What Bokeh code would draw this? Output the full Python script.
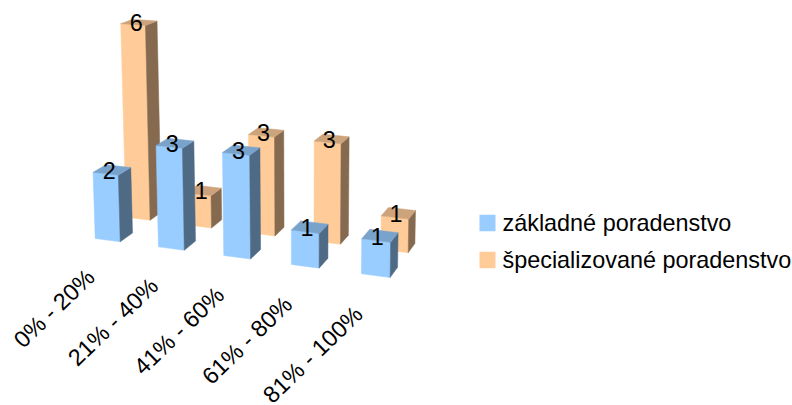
from bokeh.plotting import figure
from bokeh.models import Range1d
from bokeh.core.properties import value
from bokeh.embed import file_html
from bokeh.resources import INLINE

categories = ["0% - 20%", "21% - 40%", "41% - 60%", "61% - 80%", "81% - 100%"]
series_names = ["základné poradenstvo", "špecializované poradenstvo"]
zakladne = [2, 3, 3, 1, 1]
specializovane = [6, 1, 3, 3, 1]

FACE = ["#99CCFF", "#FFCC99"]
TOP = ["#7AA3CC", "#CCA37A"]
SIDE = ["#4F6A85", "#856A4F"]
FONT = "Liberation Sans"
FS = "23.4px"
BAR = 0.40


def project(x, y, z):
    """Perspective camera of the 3D chart: category x, value y, series depth z."""
    d = 1 - 0.0165 * x - 0.00515 * y + 0.05 * z
    u = (94.7 + 60.6 * x - 1.55 * y + 37.13 * z) / d
    v = (238 + 4.3 * x - 34 * y - 10.4 * z) / d
    return u, v


def face(corners):
    pts = [project(*c) for c in corners]
    return [p[0] for p in pts], [p[1] for p in pts]


p = figure(width=792, height=405, output_backend="svg", toolbar_location=None,
           x_range=Range1d(0, 792), y_range=Range1d(405, 0), min_border=0)
p.axis.visible = False
p.grid.visible = False
p.outline_line_color = None
p.background_fill_color = "white"

series = [zakladne, specializovane]
for s in (1, 0):
    for i, val in enumerate(series[s]):
        x0, x1, z0, z1 = i, i + BAR, s, s + BAR
        xs, ys = face([(x0, 0, z0), (x1, 0, z0), (x1, val, z0), (x0, val, z0)])
        p.patch(xs, ys, fill_color=FACE[s], line_color=FACE[s], line_width=0.5)
        xs, ys = face([(x1, 0, z0), (x1, 0, z1), (x1, val, z1), (x1, val, z0)])
        p.patch(xs, ys, fill_color=SIDE[s], line_color=SIDE[s], line_width=0.5)
        xs, ys = face([(x0, val, z0), (x1, val, z0), (x1, val, z1), (x0, val, z1)])
        p.patch(xs, ys, fill_color=TOP[s], line_color=TOP[s], line_width=0.5)

for s in (1, 0):
    for i, val in enumerate(series[s]):
        u, v = project(i + 0.17, val, s + 0.17)
        p.text([u], [v], text=[str(val)], text_font=value(FONT), text_font_size=FS,
               text_color="black", text_align="center", text_baseline="middle")

for i, c in enumerate(categories):
    u, v = project(i + 0.2, 0, 0)
    p.text([u], [v], text=[c], text_font=value(FONT), text_font_size=FS,
           text_color="black", text_align="right", text_baseline="middle",
           angle=44, angle_units="deg", x_offset=-17, y_offset=33 + 0.4 * i)

for s, name in enumerate(series_names):
    cy = 222.5 + s * 37
    p.rect([487], [cy], width=16, height=16.5, fill_color=FACE[s], line_color=None)
    p.text([502], [cy], text=[name], text_font=value(FONT), text_font_size=FS,
           text_color="black", text_align="left", text_baseline="middle")

open("out.html", "w").write(file_html(p, INLINE))
